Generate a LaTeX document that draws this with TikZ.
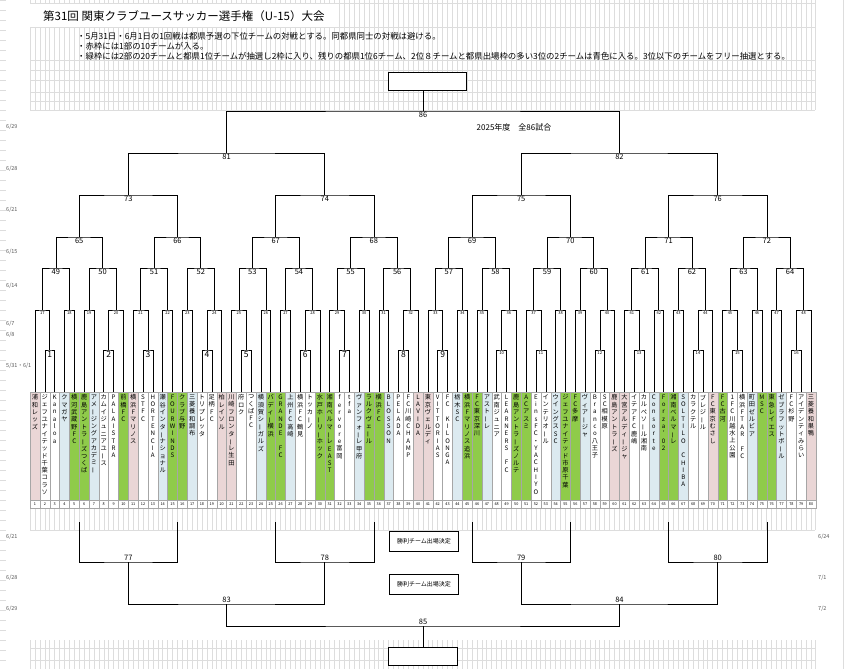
\documentclass[tikz,border=0pt]{standalone}
\usepackage{fontspec}
\setmainfont{Noto Sans CJK JP}
\usetikzlibrary{calc}
\definecolor{tcP}{HTML}{EAD6D6}
\definecolor{tcG}{HTML}{8FCB4A}
\definecolor{tcB}{HTML}{DCEAF0}
\definecolor{tcW}{HTML}{FFFFFF}
\definecolor{gridc}{HTML}{DDDDDD}
\ExplSyntaxOn
\cs_new_protected:Npn \my_vstack:n #1 {
  \tl_map_inline:nn {#1} {
    \str_if_eq:nnTF {##1}{ー}{\rotatebox[origin=c]{90}{ー}}
      {\str_if_eq:nnTF {##1}{_}{\mbox{}}{##1}}\\
  }
}
\cs_generate_variant:Nn \my_vstack:n {o}
\NewDocumentCommand\vstack{m}{\my_vstack:o{#1}}
\ExplSyntaxOff
\tikzset{
  br/.style={draw=black, line width=0.6pt},
  cell/.style={draw=gray!70, line width=0.4pt},
  datel/.style={font=\fontsize{5.5}{6}\selectfont, text=gray!70!black, anchor=west, inner sep=0},
  winbox/.style={draw=black, line width=0.8pt, fill=white, minimum width=69pt, minimum height=20pt, inner sep=0, font=\fontsize{6}{7}\selectfont},
}
\newcommand\mt[5]{%
  \coordinate (tmp) at ($(#2)!0.5!(#3)$);
  \coordinate (m#1) at (tmp |- 0,#4);
  \draw[br] (#2) |- (m#1) -| (#3);
  \node[font=#5, below, inner sep=1pt] at (m#1) {#1};
}
\newcommand\mbt[5]{%
  \coordinate (tmp) at ($(#2)!0.5!(#3)$);
  \coordinate (m#1) at (tmp |- 0,#4);
  \draw[br] (#2) |- (m#1) -| (#3);
  \node[font=#5, above, inner sep=1pt] at (m#1) {#1};
}
\def\labf{\fontsize{7.5}{8}\selectfont}
\begin{document}
\begin{tikzpicture}[x=1pt,y=-1pt]
\useasboundingbox (0,0) rectangle (847,669);
\fill[white] (0,0) rectangle (847,669);
% spreadsheet grid
\foreach \gx in {0,...,160} {
  \pgfmathsetmacro\xg{30+\gx*4.91}
  \draw[gridc, line width=0.3pt] (\xg,0) -- (\xg,110);
  \draw[gridc, line width=0.3pt] (\xg,508) -- (\xg,530);
  \draw[gridc, line width=0.3pt] (\xg,640) -- (\xg,669);
}
\foreach \gy in {3,27,60,70,80,92,101,110,508,530,648,660} {
  \draw[gridc, line width=0.3pt] (30,\gy) -- (815,\gy);
}
\foreach \gy in {0,10,...,660} { \draw[gridc, line width=0.3pt] (0,\gy) -- (6,\gy); }
\draw[gridc, line width=0.8pt] (843,0) -- (843,669);
% header
\fill[white] (30,4) rectangle (335,27);
\node[anchor=west, font=\fontsize{11.5}{13}\selectfont, inner sep=0] (title) at (43,16) {第31回 関東クラブユースサッカー選手権（U-15）大会};
\node[anchor=west, font=\fontsize{8.4}{9}\selectfont, inner sep=0] (n1) at (77,36) {・5月31日・6月1日の1回戦は都県予選の下位チームの対戦とする。同都県同士の対戦は避ける。};
\node[anchor=west, font=\fontsize{8.4}{9}\selectfont, inner sep=0] (n2) at (77,46.5) {・赤枠には1部の10チームが入る。};
\node[anchor=west, font=\fontsize{8.4}{9}\selectfont, inner sep=0] (n3) at (77,56) {・緑枠には2部の20チームと都県1位チームが抽選し2枠に入り、残りの都県1位6チーム、2位８チームと都県出場枠の多い3位の2チームは青色に入る。3位以下のチームをフリー抽選とする。};
% teams
\foreach \i/\c/\nm in {
1/P/浦和レッズ,2/W/ジェフユナイテッド千葉コラソ,3/W/Kanaloa,4/B/クマガヤ,5/G/横河武蔵野FC,
6/G/鹿島アントラーズつくば,7/B/アメージングアカデミー,8/W/カムイジュニアユース,9/W/PALAISTRA,10/G/前橋FC,
11/P/横浜Fマリノス,12/W/STFC,13/W/HORTENCIA,14/B/瀬谷インターナショナル,15/G/FOURWINDS,
16/G/クラブ与野,17/B/三菱養和調布,18/W/トリプレッタ,19/W/足柄FC,20/P/柏レイソル,
21/P/川崎フロンターレ生田,22/W/府ロク,23/W/つくばFC,24/B/横須賀シーガルズ,25/G/バディー横浜,
26/G/GRANDE_FC,27/B/上州FC高崎,28/W/横浜FC鶴見,29/W/トッカーノ,30/G/水戸ホーリーホック,
31/G/湘南ベルマーレEAST,32/W/fervore富岡,33/W/tfa,34/B/ヴァンフォーレ甲府,35/G/ラルクヴェール,
36/G/横浜FC,37/B/BLOSSON,38/W/PELADA,39/W/FC川崎CHAMP,40/P/LAVIDA,
41/P/東京ヴェルディ,42/W/VITTORIAS,43/W/FC_KILONGA,44/B/栃木SC,45/G/横浜Fマリノス追浜,
46/G/FC東京深川,47/B/アストーレ,48/W/武南ジュニア,49/W/LEARNERS_FC,50/G/鹿島アントラーズノルテ,
51/G/ACアスミ,52/W/EinsFC・YACHIYO,53/W/インテリオール,54/B/ウイングスSC,55/G/ジェフユナイテッド市原千葉,
56/G/FC多摩,57/B/ヴィアージャ,58/W/Branco八王子,59/W/SC相模原,60/P/鹿島アントラーズ,
61/P/大宮アルディージャ,62/W/イテアFC鹿嶋,63/W/カルペソール湘南,64/B/Consorte,65/G/Forza'02,
66/G/湘南ベルマーレ,67/B/SOLTILO_CHIBA,68/W/カラクテル,69/W/ブレジール,70/P/FC東京むさし,
71/G/FC古河,72/W/1FC川越水上公園,73/W/横浜FTAR_FC,74/B/町田ゼルビア,75/G/MSC,
76/G/東急レイエス,77/B/ゼブラフットボール,78/W/FC杉野,79/W/アイデンティみらい,80/P/三菱養和巣鴨} {
  \pgfmathsetmacro\xx{35+(\i-1)*9.823}
  \draw[cell, fill=tc\c] (\xx-4.91,392) rectangle (\xx+4.91,500);
  \node[anchor=north, text width=9pt, align=center, inner sep=0,
        font=\fontsize{6.2}{7.3}\selectfont] at (\xx,394.5) {\vstack{\nm}};
  \draw[cell] (\xx-4.91,500) rectangle (\xx+4.91,508);
  \node[font=\fontsize{3.8}{4}\selectfont, inner sep=0] at (\xx,504) {\i};
  \coordinate (t\i) at (\xx,392);
}
% round 1
\foreach \b in {0,...,7} {
  \pgfmathtruncatemacro\ma{2*\b+1}
  \pgfmathtruncatemacro\mb{2*\b+2}
  \pgfmathtruncatemacro\ta{10*\b+2}
  \pgfmathtruncatemacro\tb{10*\b+3}
  \pgfmathtruncatemacro\tc{10*\b+8}
  \pgfmathtruncatemacro\td{10*\b+9}
  \ifnum\ma<10 \def\fa{\fontsize{8.5}{9}\selectfont}\else\def\fa{\fontsize{4.2}{5}\selectfont}\fi
  \ifnum\mb<10 \def\fb{\fontsize{8.5}{9}\selectfont}\else\def\fb{\fontsize{4.2}{5}\selectfont}\fi
  \mt{\ma}{t\ta}{t\tb}{350}{\fa}
  \mt{\mb}{t\tc}{t\td}{350}{\fb}
}
% round 2
\foreach \b in {0,...,7} {
  \pgfmathtruncatemacro\ma{2*\b+1}
  \pgfmathtruncatemacro\mb{2*\b+2}
  \pgfmathtruncatemacro\ka{17+4*\b}
  \pgfmathtruncatemacro\kb{18+4*\b}
  \pgfmathtruncatemacro\kc{19+4*\b}
  \pgfmathtruncatemacro\kd{20+4*\b}
  \pgfmathtruncatemacro\tA{10*\b+1}
  \pgfmathtruncatemacro\tB{10*\b+4}
  \pgfmathtruncatemacro\tC{10*\b+5}
  \pgfmathtruncatemacro\tD{10*\b+6}
  \pgfmathtruncatemacro\tE{10*\b+7}
  \pgfmathtruncatemacro\tF{10*\b+10}
  \mt{\ka}{t\tA}{m\ma}{310}{\fontsize{4}{4.5}\selectfont}
  \mt{\kb}{t\tB}{t\tC}{310}{\fontsize{4}{4.5}\selectfont}
  \mt{\kc}{t\tD}{t\tE}{310}{\fontsize{4}{4.5}\selectfont}
  \mt{\kd}{m\mb}{t\tF}{310}{\fontsize{4}{4.5}\selectfont}
}
% round 3
\foreach \b in {0,...,7} {
  \pgfmathtruncatemacro\na{49+2*\b}
  \pgfmathtruncatemacro\nb{50+2*\b}
  \pgfmathtruncatemacro\ka{17+4*\b}
  \pgfmathtruncatemacro\kb{18+4*\b}
  \pgfmathtruncatemacro\kc{19+4*\b}
  \pgfmathtruncatemacro\kd{20+4*\b}
  \mt{\na}{m\ka}{m\kb}{268}{\labf}
  \mt{\nb}{m\kc}{m\kd}{268}{\labf}
}
% round 4
\foreach \b in {0,...,7} {
  \pgfmathtruncatemacro\n{65+\b}
  \pgfmathtruncatemacro\na{49+2*\b}
  \pgfmathtruncatemacro\nb{50+2*\b}
  \mt{\n}{m\na}{m\nb}{237}{\labf}
}
% round 5
\foreach \c in {0,...,3} {
  \pgfmathtruncatemacro\n{73+\c}
  \pgfmathtruncatemacro\na{65+2*\c}
  \pgfmathtruncatemacro\nb{66+2*\c}
  \mt{\n}{m\na}{m\nb}{195}{\labf}
}
\mt{81}{m73}{m74}{153}{\labf}
\mt{82}{m75}{m76}{153}{\labf}
\mt{86}{m81}{m82}{111}{\labf}
\node[draw=black, line width=0.6pt, fill=white, minimum width=78pt, minimum height=18pt, inner sep=0] (champ) at ($(m86 |- 0,81)+(4,0)$) {};
\draw[br] (m86) -- (m86 |- champ.south);
\node[font=\fontsize{8}{9}\selectfont, inner sep=0] (yr) at (514,127) {2025年度　全86試合};
% bottom
\foreach \k in {65,...,72} { \coordinate (b\k) at (m\k |- 0,522); }
\mbt{77}{b65}{b66}{562}{\labf}
\mbt{78}{b67}{b68}{562}{\labf}
\mbt{79}{b69}{b70}{562}{\labf}
\mbt{80}{b71}{b72}{562}{\labf}
\mbt{83}{m77}{m78}{604}{\labf}
\mbt{84}{m79}{m80}{604}{\labf}
\mbt{85}{m83}{m84}{626}{\labf}
\node[draw=black, line width=0.6pt, fill=white, minimum width=69pt, minimum height=18pt, inner sep=0] (third) at (m85 |- 0,656) {};
\draw[br] (m85) -- (third.north);
\node[winbox] (w1) at (424,541) {勝利チーム出場決定};
\node[winbox] (w2) at (424,584) {勝利チーム出場決定};
% dates
\node[datel] at (6,127) {6/29};
\node[datel] at (6,169) {6/28};
\node[datel] at (6,210) {6/21};
\node[datel] at (6,252) {6/15};
\node[datel] at (6,286) {6/14};
\node[datel] at (6,324) {6/7};
\node[datel] at (6,335) {6/8};
\node[datel] at (6,366) {5/31・6/1};
\node[datel] at (6,537) {6/21};
\node[datel] at (6,578) {6/28};
\node[datel] at (6,609) {6/29};
\node[datel] at (818,537) {6/24};
\node[datel] at (818,578) {7/1};
\node[datel] at (818,609) {7/2};
\end{tikzpicture}
\end{document}
